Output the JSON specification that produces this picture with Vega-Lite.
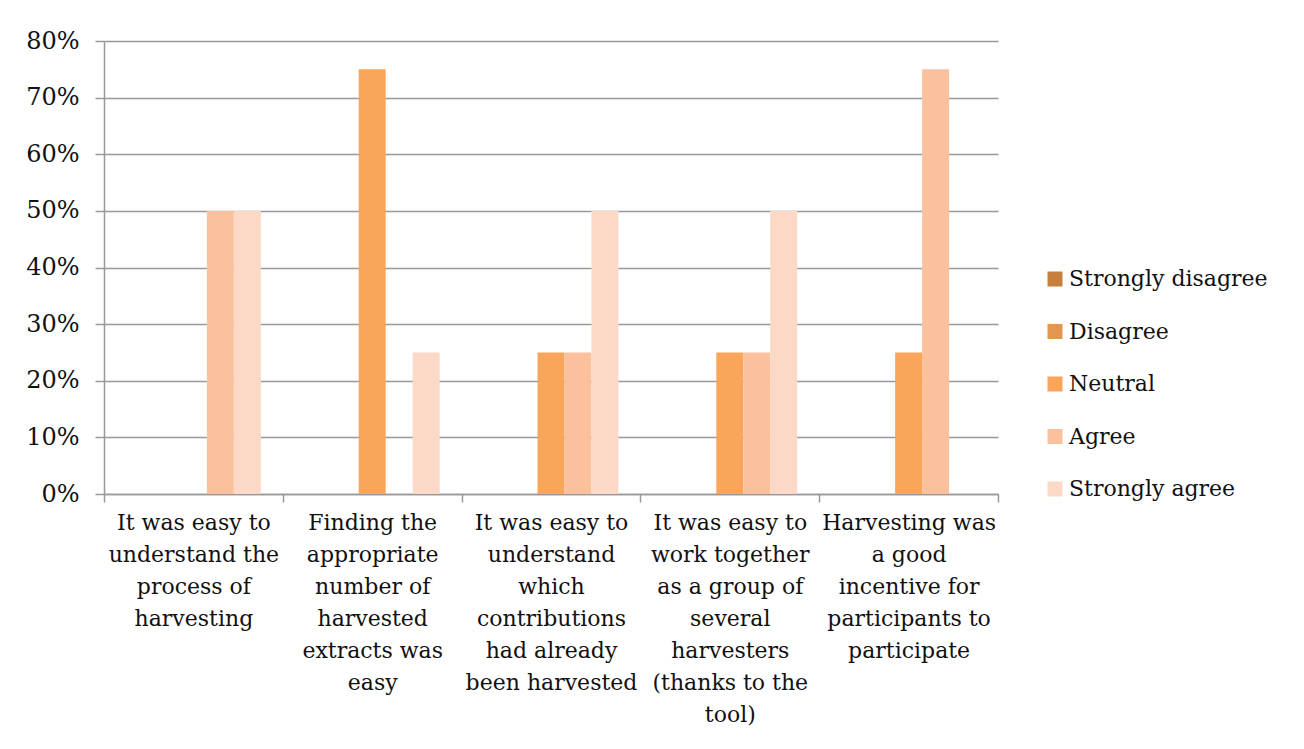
{
  "$schema": "https://vega.github.io/schema/vega-lite/v6.json",
  "autosize": {"type": "none"},
  "width": 894,
  "height": 453,
  "padding": {"left": 104, "top": 41, "right": 306, "bottom": 255},
  "background": "white",
  "config": {
    "font": "DejaVu Serif",
    "view": {"stroke": null},
    "axis": {"labelFont": "DejaVu Serif", "labelFontSize": 22, "labelColor": "#111", "domainColor": "#999", "tickColor": "#999", "gridColor": "#999", "domainWidth": 1.5, "tickWidth": 1.5, "gridWidth": 1.5},
    "legend": {"labelFont": "DejaVu Serif", "labelFontSize": 22, "labelColor": "#111"}
  },
  "data": {
    "values": [
      {"q": "It was easy to|understand the|process of|harvesting", "r": "Strongly disagree", "v": 0},
      {"q": "It was easy to|understand the|process of|harvesting", "r": "Disagree", "v": 0},
      {"q": "It was easy to|understand the|process of|harvesting", "r": "Neutral", "v": 0},
      {"q": "It was easy to|understand the|process of|harvesting", "r": "Agree", "v": 0.5},
      {"q": "It was easy to|understand the|process of|harvesting", "r": "Strongly agree", "v": 0.5},
      {"q": "Finding the|appropriate|number of|harvested|extracts was|easy", "r": "Strongly disagree", "v": 0},
      {"q": "Finding the|appropriate|number of|harvested|extracts was|easy", "r": "Disagree", "v": 0},
      {"q": "Finding the|appropriate|number of|harvested|extracts was|easy", "r": "Neutral", "v": 0.75},
      {"q": "Finding the|appropriate|number of|harvested|extracts was|easy", "r": "Agree", "v": 0},
      {"q": "Finding the|appropriate|number of|harvested|extracts was|easy", "r": "Strongly agree", "v": 0.25},
      {"q": "It was easy to|understand|which|contributions|had already|been harvested", "r": "Strongly disagree", "v": 0},
      {"q": "It was easy to|understand|which|contributions|had already|been harvested", "r": "Disagree", "v": 0},
      {"q": "It was easy to|understand|which|contributions|had already|been harvested", "r": "Neutral", "v": 0.25},
      {"q": "It was easy to|understand|which|contributions|had already|been harvested", "r": "Agree", "v": 0.25},
      {"q": "It was easy to|understand|which|contributions|had already|been harvested", "r": "Strongly agree", "v": 0.5},
      {"q": "It was easy to|work together|as a group of|several|harvesters|(thanks to the|tool)", "r": "Strongly disagree", "v": 0},
      {"q": "It was easy to|work together|as a group of|several|harvesters|(thanks to the|tool)", "r": "Disagree", "v": 0},
      {"q": "It was easy to|work together|as a group of|several|harvesters|(thanks to the|tool)", "r": "Neutral", "v": 0.25},
      {"q": "It was easy to|work together|as a group of|several|harvesters|(thanks to the|tool)", "r": "Agree", "v": 0.25},
      {"q": "It was easy to|work together|as a group of|several|harvesters|(thanks to the|tool)", "r": "Strongly agree", "v": 0.5},
      {"q": "Harvesting was|a good|incentive for|participants to|participate", "r": "Strongly disagree", "v": 0},
      {"q": "Harvesting was|a good|incentive for|participants to|participate", "r": "Disagree", "v": 0},
      {"q": "Harvesting was|a good|incentive for|participants to|participate", "r": "Neutral", "v": 0.25},
      {"q": "Harvesting was|a good|incentive for|participants to|participate", "r": "Agree", "v": 0.75},
      {"q": "Harvesting was|a good|incentive for|participants to|participate", "r": "Strongly agree", "v": 0}
    ]
  },
  "mark": {"type": "bar"},
  "encoding": {
    "x": {
      "field": "q", "type": "nominal", "sort": null,
      "scale": {"paddingInner": 0, "paddingOuter": 0},
      "axis": {"title": null, "labelAngle": 0, "labelExpr": "split(datum.label, '|')", "labelLineHeight": 32, "labelLimit": 0, "tickBand": "extent", "tickSize": 8, "labelPadding": 10, "labelBaseline": "top"}
    },
    "xOffset": {
      "field": "r", "type": "nominal",
      "scale": {"domain": ["Strongly disagree", "Disagree", "Neutral", "Agree", "Strongly agree"], "paddingInner": 0, "paddingOuter": 0.815}
    },
    "y": {
      "field": "v", "type": "quantitative",
      "scale": {"domain": [0, 0.8], "nice": false},
      "axis": {"title": null, "format": ".0%", "values": [0, 0.1, 0.2, 0.3, 0.4, 0.5, 0.6, 0.7, 0.8], "tickSize": 9, "labelPadding": 16, "labelFontSize": 24, "grid": true}
    },
    "color": {
      "field": "r", "type": "nominal",
      "scale": {"domain": ["Strongly disagree", "Disagree", "Neutral", "Agree", "Strongly agree"], "range": ["#c5813c", "#e3964f", "#f9a65a", "#fbc09c", "#fcd8c7"]},
      "legend": {"title": null, "orient": "none", "legendX": 940, "legendY": 227, "symbolType": "square", "symbolSize": 225, "symbolStrokeWidth": 0, "rowPadding": 30.5, "labelOffset": 3, "labelLimit": 0}
    }
  }
}
